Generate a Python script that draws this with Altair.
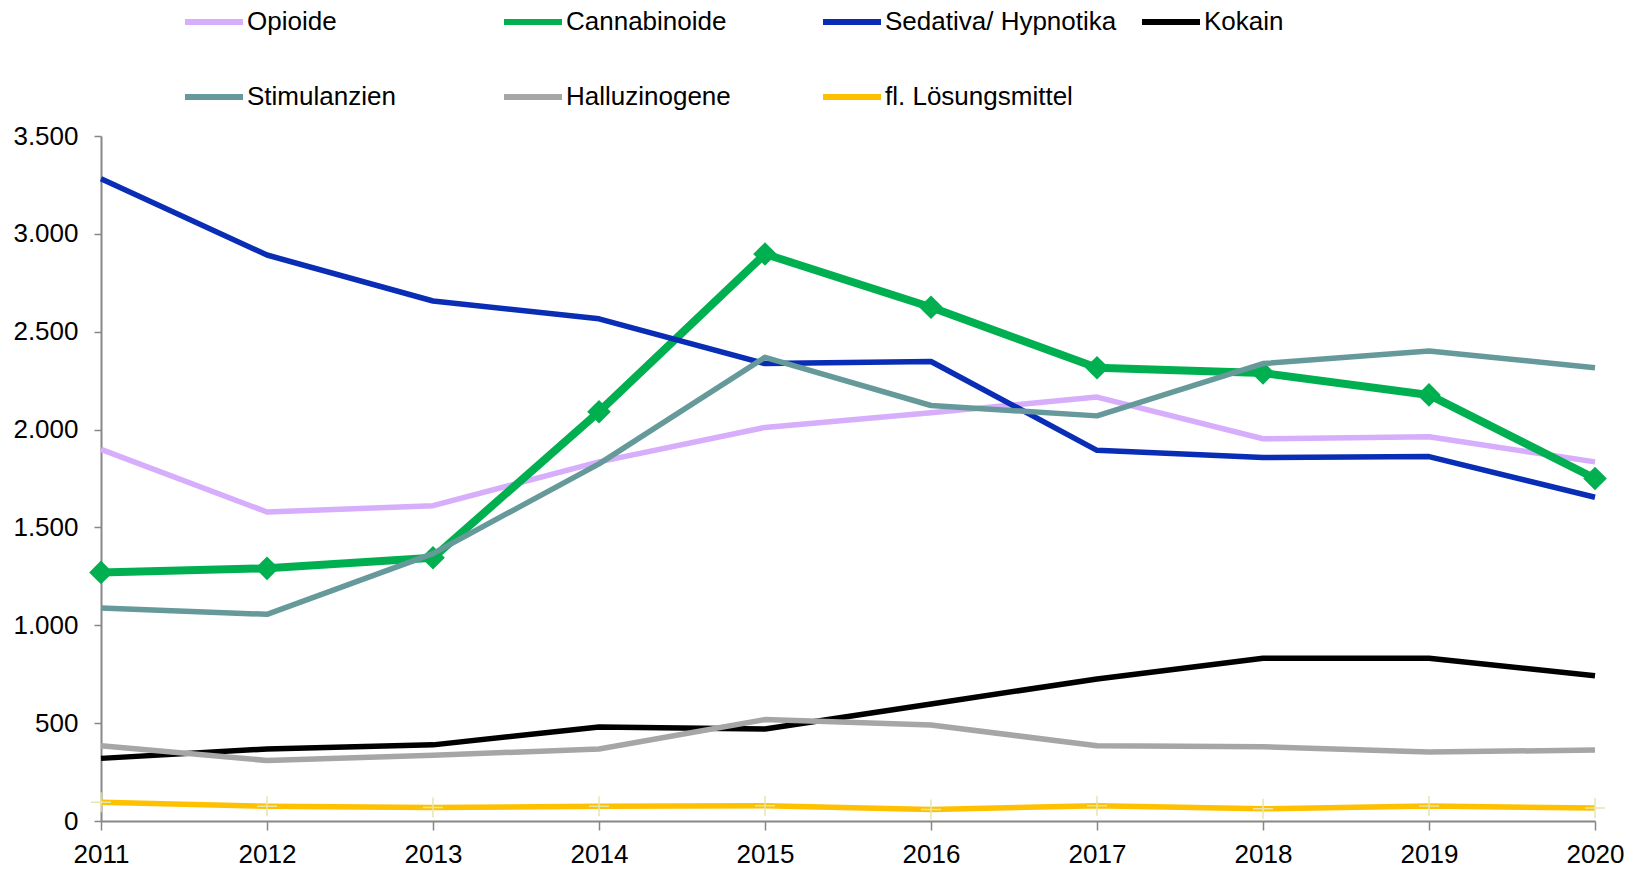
import altair as alt
import pandas as pd

years = [2011, 2012, 2013, 2014, 2015, 2016, 2017, 2018, 2019, 2020]
series_names = ["Opioide", "Cannabinoide", "Sedativa/ Hypnotika", "Kokain",
                "Stimulanzien", "Halluzinogene", "fl. Lösungsmittel"]
opioide = [1899, 1579, 1611, 1835, 2011, 2086, 2166, 1953, 1963, 1835]
cannabinoide = [1270, 1291, 1345, 2091, 2897, 2625, 2316, 2289, 2177, 1750]
sedativa = [3281, 2892, 2657, 2566, 2337, 2348, 1894, 1857, 1862, 1654]
kokain = [320, 368, 389, 480, 470, 598, 726, 832, 832, 742]
stimulanzien = [1088, 1056, 1366, 1825, 2369, 2123, 2070, 2337, 2401, 2316]
halluzinogene = [384, 309, 336, 368, 518, 491, 384, 379, 352, 363]
loesungsmittel = [96, 75, 69, 75, 78, 59, 78, 62, 77, 66]
y_ticks = [0, 500, 1000, 1500, 2000, 2500, 3000, 3500]

colors = ["#D6AEFB", "#00B050", "#0A2DB6", "#000000", "#669999", "#A6A6A6", "#FFC000"]

all_values = [opioide, cannabinoide, sedativa, kokain, stimulanzien, halluzinogene, loesungsmittel]
rows = []
for name, vals in zip(series_names, all_values):
    for yr, v in zip(years, vals):
        rows.append({"year": yr, "series": name, "value": v})
df = pd.DataFrame(rows)

FONT = "Liberation Sans"

x_enc = alt.X("year:Q", scale=alt.Scale(domain=[2011, 2020], nice=False, zero=False),
              axis=alt.Axis(values=years, format="d", title=None, grid=False,
                            labelFlush=False, labelOverlap=False, tickSize=9,
                            labelPadding=11))
y_enc = alt.Y("value:Q", scale=alt.Scale(domain=[0, 3500], nice=False),
              axis=alt.Axis(values=y_ticks, title=None, grid=False, tickSize=7,
                            labelPadding=16,
                            labelExpr="replace(format(datum.value, ','), ',', '.')"))

legend = alt.Legend(title=None, orient="none", legendX=81, legendY=-146,
                    direction="horizontal", columns=4, gridAlign="all",
                    columnPadding=13, rowPadding=30, symbolType="stroke",
                    symbolSize=3364, symbolStrokeWidth=6, labelOffset=1, labelLimit=400,
                    labelFont=FONT, labelFontSize=26, labelColor="#000000", padding=0)

lines = alt.Chart(df).mark_line(strokeJoin="round", strokeCap="butt").encode(
    x=x_enc, y=y_enc,
    stroke=alt.Stroke("series:N", scale=alt.Scale(domain=series_names, range=colors),
                      legend=legend, sort=series_names),
    strokeWidth=alt.condition(alt.datum.series == "Cannabinoide", alt.value(8), alt.value(5.5)),
)

diamonds = alt.Chart(df).transform_filter(
    alt.datum.series == "Cannabinoide"
).mark_point(shape="diamond", filled=True, size=560, opacity=1, color="#00B050").encode(
    x=x_enc, y=y_enc
)

pluses = alt.Chart(df).transform_filter(
    alt.datum.series == "fl. Lösungsmittel"
).mark_point(shape="M-1,0H1M0,-1V1", filled=False, size=400, opacity=1,
             color="#E6E6AE", strokeWidth=1.5).encode(
    x=x_enc, y=y_enc
)

chart = alt.layer(diamonds, lines, pluses).properties(
    width=1494, height=685,
    autosize=alt.AutoSizeParams(type="none"),
    padding={"left": 93, "top": 128, "right": 30, "bottom": 50},
).configure_view(stroke=None).configure_axis(
    labelFont=FONT, labelFontSize=26, labelColor="#000000",
    domainColor="#878787", domainWidth=2, tickColor="#878787", tickWidth=1.5,
)

chart.save("out.html", embed_options={"renderer": "svg", "actions": False})
